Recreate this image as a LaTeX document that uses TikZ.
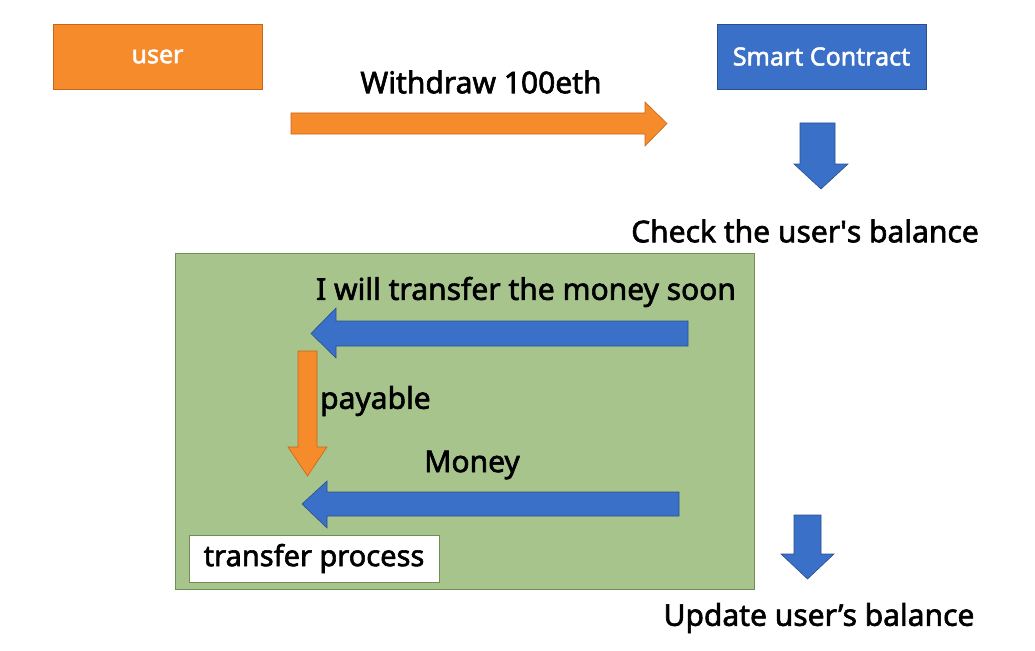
\documentclass[tikz,border=0pt]{standalone}
\usepackage{fontspec}
\setmainfont{Noto Sans}
\newfontfamily\labelfont{Noto Sans}[FakeBold=2]
\usepackage{tikz}
\usetikzlibrary{positioning}
\usepackage{xcolor}

\definecolor{userOrange}{HTML}{F68B2C}
\definecolor{userOrangeLine}{HTML}{C8651A}
\definecolor{scBlue}{HTML}{3B70C9}
\definecolor{scBlueLine}{HTML}{2B4F8C}
\definecolor{procGreen}{HTML}{A7C48D}
\definecolor{procGreenLine}{HTML}{6F8F55}

\begin{document}
\begin{tikzpicture}[x=1pt, y=-1pt]

\tikzset
  {
    myBox/.style=    {draw, line width=0.8pt, minimum width=209pt, minimum height=65pt, inner sep=0pt, text=white, font=\labelfont\fontsize{25}{30}\selectfont},
    myLabel/.style=  {inner sep=0pt, font=\labelfont\fontsize{30}{36}\selectfont},
    orangeArrow/.style= {fill=userOrange, draw=userOrangeLine, line width=0.6pt},
    blueArrow/.style=   {fill=scBlue, draw=scBlueLine, line width=0.6pt}
  }

\useasboundingbox (0,0) rectangle (1035,650);

% boxes
{
\node[myBox, fill=userOrange, draw=userOrangeLine] (user) at (157.5,56.5) {user};
\node[myBox, fill=scBlue, draw=scBlueLine] (contract) at (821.5,56.5) {Smart Contract};

\node[draw=procGreenLine, fill=procGreen, line width=0.8pt, minimum width=579pt, minimum height=336pt, inner sep=0pt] (process) at (464.5,421) {};
}

% arrows
{
\draw[orangeArrow] (291,113)--++(354,0)--++(0,-11)--(667,123.5)--(645,146)--++(0,-12)--++(-354,0)--cycle;

\draw[blueArrow] (800,123)--++(35,0)--++(0,41)--++(13,0)--(821,189)--(794,164)--++(6,0)--cycle;

\draw[blueArrow] (688,321)--++(-352,0)--++(0,-13)--(311,333.5)--(336,358)--++(0,-12)--++(352,0)--cycle;

\draw[orangeArrow] (298,351)--++(19,0)--++(0,96)--++(10,0)--(307.5,476)--(288,447)--++(10,0)--cycle;

\draw[blueArrow] (679,492)--++(-352,0)--++(0,-11)--(302,504)--(327,528)--++(0,-12)--++(352,0)--cycle;

\draw[blueArrow] (794,515)--++(27,0)--++(0,39)--++(13,0)--(807.5,579)--(781,554)--++(13,0)--cycle;
}

% labels
{
\node[myLabel] (withdraw) at (481,82) {Withdraw 100eth};
\node[myLabel] (check) at (805,231) {Check the user\textquotesingle s balance};
\node[myLabel] (promise) at (526,292) {I will transfer the money soon};
\node[myLabel, anchor=west] (payable) at (320,401) {payable};
\node[myLabel] (money) at (472,465) {Money};
\node[myLabel] (update) at (819,618) {Update user’s balance};

\node[draw=procGreenLine, fill=white, line width=0.6pt, minimum width=250pt, minimum height=47pt, inner sep=0pt, font=\labelfont\fontsize{29}{34}\selectfont] (transfer) at (314,558.5) {transfer process};
}

\end{tikzpicture}
\end{document}
